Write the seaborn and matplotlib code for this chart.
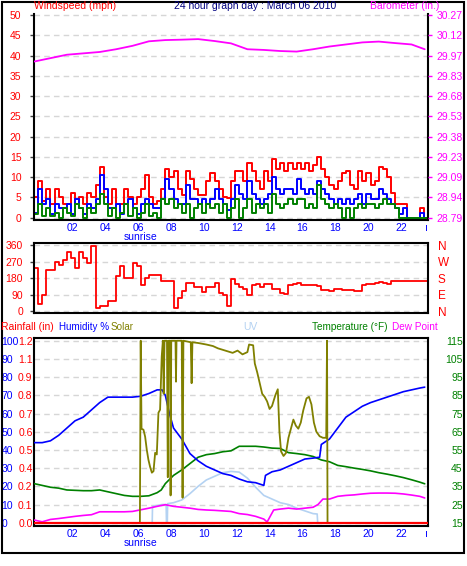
import numpy as np
import pandas as pd
import matplotlib
matplotlib.use("Agg")
import matplotlib.pyplot as plt
import matplotlib.patches as mpatches
import seaborn as sns

sns.set_theme(style="white")
plt.rcParams["font.family"] = ["Liberation Sans", "DejaVu Sans"]
plt.rcParams["font.size"] = 7.5

RED, BLUE, GREEN, MAG = "#ff0000", "#0000ff", "#008000", "#ff00ff"
OLIVE, UVC, NAVY = "#808000", "#b4d2f2", "#000080"
GRID = "#d6d6d6"

# ---------------- data ----------------
wind_step_h = 0.25
gust_mph = [5, 9, 4, 7, 3.5, 7, 5, 3.5, 3.5, 6, 3.5, 5, 3.5, 6, 5, 8,
            12.5, 5, 3.5, 7, 3.5, 3.5, 7, 5, 3.5, 5, 7, 10.5, 5, 3.5, 4, 7,
            12, 10, 11.5, 7, 5.5, 11.5, 9.5, 7, 5.5, 5.5, 9, 11, 9, 7, 5, 4.8,
            9, 11.5, 11.5, 9, 13.5, 11.5, 9, 7, 11.5, 9, 14.5, 12, 13.5, 11.5, 13.5, 12,
            13.5, 12, 13.5, 11.5, 13, 15, 12, 10, 8, 7, 9, 11, 11.5, 8, 7, 11.5,
            9, 11, 8, 9, 12.5, 12, 10, 6, 3.5, 3.5, 3.5, 0, 0, 0, 2.3, 0]
avg_mph = [1.2, 7, 3.5, 4.6, 1, 3.5, 2.3, 2.3, 3.5, 1, 4.6, 2.3, 1, 3.5, 2.3, 4.6,
           10.5, 7, 2.3, 2.3, 3.5, 1, 3.5, 4.6, 2.3, 1, 3.5, 4.6, 3.5, 2.3, 2.3, 4.6,
           9.5, 7, 4.6, 3.5, 3.5, 8, 4.6, 4.6, 3.5, 4.6, 3.5, 4.6, 7, 4.6, 3.5, 2,
           4.6, 8, 5.8, 4.6, 9, 5.8, 4.6, 3.5, 4.6, 5.8, 10, 7, 5.8, 7, 7, 5.8,
           9.5, 7, 5.8, 7, 5.8, 9, 7, 5.8, 4.6, 3.5, 4.6, 3.5, 4.6, 3.5, 4.6, 5.8,
           3.5, 5.8, 4.6, 4.6, 7, 5.8, 4.6, 3.5, 2.3, 1, 2.3, 0, 0, 0, 1.2, 0]
low_mph = [1, 3.5, 0.5, 2.3, 0.5, 1.2, 0, 2.3, 1.2, 0.5, 3.5, 2.3, 0, 2.3, 1.2, 3.5,
           5.8, 3.5, 0.5, 2.3, 0, 1.2, 3.5, 0.5, 2.3, 0, 1.2, 3.5, 0.5, 1.2, 0, 4.6,
           3.5, 4.6, 2.3, 3.5, 1.2, 3.5, 0, 2.3, 3.5, 1.2, 3.5, 2.3, 3.5, 1.2, 3.5, 0,
           2.3, 4.6, 0, 2.3, 4.6, 1.2, 3.5, 2.3, 3.5, 1.2, 5.8, 3.5, 2.3, 3.5, 4.6, 3.5,
           4.6, 4.6, 2.3, 3.5, 2.3, 8, 4.6, 3.5, 2.3, 3.5, 2.3, 0, 2.3, 0, 2.3, 3.5,
           2.3, 3.5, 3.5, 2.3, 3.5, 4.6, 3.5, 3.5, 2.3, 0, 0, 0, 0, 0, 0, 0]
wind_dir = [234, 40, 90, 225, 225, 270, 252, 279, 324, 288, 234, 324, 288, 261, 355, 18,
            27, 27, 54, 54, 189, 243, 180, 180, 261, 243, 144, 180, 198, 198, 198, 162,
            165, 165, 16, 71, 110, 152, 152, 130, 130, 102, 130, 130, 152, 100, 90, 27,
            175, 150, 130, 120, 85, 140, 150, 130, 150, 150, 120, 120, 100, 95, 140, 150,
            155, 140, 140, 140, 140, 135, 112, 115, 110, 118, 120, 115, 112, 112, 110, 110,
            140, 145, 150, 155, 160, 155, 150, 165, 165, 165, 165, 165, 165, 165, 165, 165]

baro_hours = [0, 1, 2, 3, 4, 5, 6, 7, 8, 9, 10, 11, 12, 13, 14, 15, 16, 17, 18, 19,
              20, 21, 22, 23, 23.8]
baro_in = [29.93, 29.955, 29.98, 29.99, 30.0, 30.02, 30.045, 30.078, 30.087, 30.09,
           30.094, 30.08, 30.063, 30.02, 30.015, 30.007, 30.003, 30.02, 30.04, 30.055,
           30.07, 30.076, 30.065, 30.055, 30.02]
baro_ticks = ["28.79", "28.94", "29.09", "29.23", "29.38", "29.53", "29.68", "29.83",
              "29.97", "30.12", "30.27"]

hum_hours = [0, 0.5, 1, 1.5, 2, 2.5, 3, 3.5, 4, 4.5, 5, 6, 6.5, 7, 7.5, 7.8, 8, 8.25,
             8.5, 9, 9.5, 10, 10.5, 11, 11.5, 12, 12.5, 13, 13.5, 14, 14.1, 14.5, 15,
             15.5, 16, 16.5, 17, 17.4, 17.5, 18, 18.5, 19, 19.5, 20, 20.5, 21, 21.5, 22,
             22.5, 23, 23.5, 23.8]
hum_pct = [44, 44, 45, 48, 52, 56, 58, 62, 66, 69, 69, 69, 69.5, 71, 73, 73, 70, 60,
           52, 46, 38, 34, 31, 29, 27, 26, 24, 22.5, 22, 20.5, 26, 28, 29,
           31, 33, 35, 35.5, 36, 43, 46, 52, 58, 61, 64, 66, 67.5, 69, 70.5,
           72, 73, 74, 74.5]

temp_hours = [0, 0.5, 1, 1.5, 2, 2.5, 3, 3.5, 4, 4.5, 5, 5.5, 6, 6.5, 7, 7.5, 7.75, 8,
              8.5, 9, 9.5, 10, 10.5, 11, 11.5, 12, 12.5, 13, 13.5, 14, 14.5, 15, 15.5,
              16, 16.5, 17, 17.5, 18, 18.5, 19, 19.5, 20, 20.5, 21, 21.5, 22, 22.5, 23,
              23.5, 23.8]
temp_f = [36.5, 35.5, 34.5, 34, 33, 32.8, 32.6, 32.6, 33, 32, 31, 30, 29.5, 29.5, 29.8,
          31.5, 33, 36.5, 41, 44, 47.5, 51, 52.4, 53, 54, 54.5, 57, 57, 57, 56.6, 56,
          55.8, 53.5, 53, 52.4, 51.4, 49.5, 48.5, 46.5, 45.8, 45, 44.3, 43.5, 42.5,
          41.7, 40.8, 39.8, 38.6, 37.3, 36.4]

dew_hours = [0, 0.5, 1, 1.5, 2, 2.5, 3, 3.5, 4, 4.5, 5, 5.5, 6, 6.5, 7, 7.5, 8, 8.5, 9,
             9.5, 10, 10.5, 11, 11.5, 12, 12.5, 13, 13.5, 14, 14.2, 14.6, 15, 15.5, 16,
             16.5, 17, 17.3, 17.6, 18, 18.5, 19, 19.5, 20, 20.5, 21, 21.5, 22, 22.5, 23,
             23.5, 23.8]
dew_f = [16.5, 15.5, 16.8, 17.3, 17.9, 18.5, 19, 19.4, 21, 21, 21, 21, 21.2, 22.1, 23,
         24, 24.9, 24, 23.5, 23, 22.3, 22, 21.8, 21.5, 21.2, 20, 19.5, 18.5, 17, 15.4,
         22, 22.5, 23, 22.5, 23, 23.5, 25, 28, 28, 29.5, 30, 30.3, 30.8, 31.2, 31.3,
         31.3, 31.2, 30.8, 30.2, 29.5, 28.6]

solar_hours = [6.45, 6.5, 6.55, 6.67, 6.77, 6.87, 6.97, 7.07, 7.18, 7.28, 7.38, 7.48,
               7.58, 7.68, 7.78, 7.85, 7.9, 7.95, 8.1, 8.15, 8.2, 8.3, 8.32, 8.36, 8.5,
               8.62, 8.65, 8.68, 9.0, 9.05, 9.1, 9.55, 9.6, 9.65, 10.0, 10.5, 10.9,
               11.2, 11.5, 11.8, 12.1, 12.4, 12.7, 13.0, 13.1, 13.35, 13.45, 13.6,
               13.75, 13.9, 14.05, 14.2, 14.35, 14.5, 14.7, 14.85, 14.95, 15.05, 15.2,
               15.35, 15.5, 15.65, 15.8, 15.95, 16.1, 16.25, 16.4, 16.6, 16.75, 16.9,
               17.05, 17.2, 17.4, 17.6, 17.8, 17.85, 17.88]
solar_wm2 = [0, 1200, 620, 613, 567, 481, 415, 369, 330, 340, 461, 450, 725, 745, 1096,
             1200, 850, 1200, 1200, 300, 1200, 1200, 180, 1200, 1200, 1200, 930, 1200,
             1200, 165, 1200, 1190, 920, 1190, 1185, 1175, 1165, 1150, 1140, 1130, 1120,
             1135, 1110, 1125, 1175, 1170, 1050, 990, 920, 850, 830, 800, 750, 770, 840,
             880, 600, 470, 440, 460, 560, 620, 680, 640, 620, 660, 740, 820, 830, 780,
             660, 600, 570, 560, 560, 1200, 0]

uv_hours = [7.2, 7.22, 7.5, 7.8, 8.05, 8.07, 8.12, 8.14, 8.5, 9.0, 9.5, 10.0, 10.5,
            11.0, 11.5, 12.0, 12.5, 13.0, 13.5, 14.0, 14.5, 15.0, 15.5, 16.0, 16.5,
            17.0, 17.25, 17.28]
uv_index = [0, 0.9, 0.95, 1.0, 1.0, 0, 0, 1.05, 1.1, 1.25, 1.6, 2.0, 2.35, 2.55, 2.75,
            2.82, 2.78, 2.45, 1.95, 1.5, 1.3, 1.1, 1.0, 0.8, 0.65, 0.5, 0.48, 0]

rain_hours = [0, 24]
rain_in = [0.0, 0.0]
rain_ticks = ["0.0", "0.1", "0.2", "0.4", "0.5", "0.6", "0.7", "0.8", "0.9", "1.1", "1.2"]
temp_ticks = [15, 25, 35, 45, 55, 65, 75, 85, 95, 105, 115]
hour_ticks = ["02", "04", "06", "08", "10", "12", "14", "16", "18", "20", "22", "\u0131"]
dir_letters = ["N", "E", "S", "W", "N"]
sunrise_h = 6.5

# ---------------- figure ----------------
W, H = 467, 566
fig = plt.figure(figsize=(W / 100, H / 100), dpi=100)
fig.patch.set_facecolor("white")


def rect(x0, y0, x1, y1):
    return [x0 / W, 1 - y1 / H, (x1 - x0) / W, (y1 - y0) / H]


def ftext(x, y, s, color, ha="left", size=7.5):
    fig.text(x / W, 1 - y / H, s, color=color, ha=ha, va="center", fontsize=size)


def style_axes(ax, top=True):
    for side in ["left", "bottom", "right", "top"]:
        ax.spines[side].set_color("black")
        ax.spines[side].set_linewidth(1.5)
    ax.spines["top"].set_visible(top)
    ax.set_xlim(0, 24)
    ax.set_xlabel("")
    ax.set_ylabel("")


def hour_axis(ax, labels=True):
    pos = [2, 4, 6, 8, 10, 12, 14, 16, 18, 20, 22, 23.8]
    ax.set_xticks(pos)
    ax.set_xticks([2, 4, 6, 8, 10, 12, 14, 16, 18, 20, 22], minor=True)
    if labels:
        ax.set_xticklabels(hour_ticks)
        for lab in ax.get_xticklabels():
            lab.set_ha("left")
    else:
        ax.set_xticklabels([])
    ax.tick_params(axis="x", which="both", length=0, pad=2.5, labelcolor=BLUE,
                   labelsize=7.5)


def hide_twin(ax):
    for s in ax.spines.values():
        s.set_visible(False)
    ax.set_xlabel("")
    ax.set_ylabel("")


# ===== Panel 1: wind speed + barometer =====
ax1 = fig.add_axes(rect(34, 14, 428, 220))
t_w = np.arange(len(gust_mph)) * wind_step_h
t_ext = np.append(t_w, 24.0)
series = {"Gust": gust_mph, "Average": avg_mph, "Low": low_mph}
wind_df = pd.concat([
    pd.DataFrame({"hour": t_ext, "mph": np.append(v, v[-1]), "series": k})
    for k, v in series.items()], ignore_index=True)
sns.lineplot(data=wind_df, x="hour", y="mph", hue="series",
             hue_order=["Gust", "Average", "Low"],
             palette={"Gust": RED, "Average": BLUE, "Low": GREEN},
             drawstyle="steps-post", linewidth=1.4, estimator=None,
             legend=False, ax=ax1)
style_axes(ax1, top=False)
ax1.set_ylim(-0.57, 50.25)
ax1.set_yticks(np.arange(0, 55, 5))
ax1.tick_params(axis="y", length=3, width=1, color="#404040", pad=6,
                labelcolor=RED, labelsize=7.5, left=True)
hour_axis(ax1)
ax1.yaxis.grid(True, color=GRID, lw=1, ls=(0, (4, 3)))
ax1.xaxis.grid(True, which="minor", color="#e0e0e0", lw=1.6)
ax1.xaxis.grid(False, which="major")
ax1.set_axisbelow(True)
ax1.annotate("sunrise", xy=(sunrise_h, 0), xycoords=("data", "axes fraction"),
             xytext=(0, -9), textcoords="offset points", ha="center", va="top",
             color=BLUE, fontsize=7.5)

ax1b = ax1.twinx()
sns.lineplot(x=baro_hours, y=baro_in, color=MAG, linewidth=1.3, ax=ax1b)
hide_twin(ax1b)
b0, bstep = 28.79, 0.0296
ax1b.set_ylim(b0 - 0.57 * bstep, b0 + 50.25 * bstep)
ax1b.set_yticks([b0 + bstep * 5 * k for k in range(11)])
ax1b.set_yticklabels(baro_ticks)
ax1b.tick_params(axis="y", length=3, width=1, color=MAG, pad=3, labelcolor=MAG,
                 labelsize=7.5, right=True)
ax1b.set_xlim(0, 24)

# ===== Panel 2: wind direction =====
ax2 = fig.add_axes(rect(34, 243, 428, 312.5))
dir_df = pd.DataFrame({"hour": t_ext, "deg": np.append(wind_dir, wind_dir[-1])})
sns.lineplot(data=dir_df, x="hour", y="deg", color=RED, linewidth=1.3,
             drawstyle="steps-post", estimator=None, ax=ax2)
style_axes(ax2)
ax2.set_ylim(-8, 371)
ax2.set_yticks([0, 90, 180, 270, 360])
ax2.tick_params(axis="y", length=3, width=1, color="#404040", pad=5,
                labelcolor=RED, labelsize=7.5, left=True)
hour_axis(ax2, labels=False)
ax2.yaxis.grid(True, color=GRID, lw=1, ls=(0, (4, 3)))
ax2.xaxis.grid(True, which="minor", color="#e0e0e0", lw=1.6)
ax2.xaxis.grid(False, which="major")
ax2.set_axisbelow(True)
ax2b = ax2.twinx()
hide_twin(ax2b)
ax2b.set_ylim(-8, 371)
ax2b.set_yticks([0, 90, 180, 270, 360])
ax2b.set_yticklabels(dir_letters)
ax2b.tick_params(axis="y", length=0, pad=7, labelcolor=RED, labelsize=8.5, right=True)

# ===== Panel 3: rain / humidity / solar / UV / temperature / dew point =====
hum_lim = (-1.8, 101.5)
ax3 = fig.add_axes(rect(34, 338, 428, 526))
style_axes(ax3)
ax3.set_ylim(*hum_lim)
ax3.set_yticks(np.arange(0, 101, 10))
ax3.tick_params(axis="y", length=0, pad=23.5, labelcolor=BLUE, labelsize=7.5,
                left=True)
for lab in ax3.get_yticklabels():
    lab.set_ha("left")
hour_axis(ax3)
ax3.yaxis.grid(True, color=GRID, lw=1, ls=(0, (4, 3)))
ax3.xaxis.grid(False, which="both")
ax3.annotate("sunrise", xy=(sunrise_h, 0), xycoords=("data", "axes fraction"),
             xytext=(0, -9), textcoords="offset points", ha="center", va="top",
             color=BLUE, fontsize=7.5)

ax3u = ax3.twinx()
hide_twin(ax3u)
ax3u.set_ylim(hum_lim[0] * 0.1, hum_lim[1] * 0.1)
ax3u.set_yticks([])
sns.lineplot(x=uv_hours, y=uv_index, color=UVC, linewidth=1.2, ax=ax3u)

ax3t = ax3.twinx()
hide_twin(ax3t)
ax3t.set_ylim(15 + hum_lim[0], 15 + hum_lim[1])
ax3t.set_yticks(temp_ticks)
ax3t.tick_params(axis="y", length=0, pad=25, labelcolor=GREEN, labelsize=7.5,
                 right=True)
for lab in ax3t.get_yticklabels():
    lab.set_ha("right")
sns.lineplot(x=temp_hours, y=temp_f, color=GREEN, linewidth=1.2, ax=ax3t)
sns.lineplot(x=dew_hours, y=dew_f, color=MAG, linewidth=1.2, ax=ax3t)

ax3h = ax3.twinx()
hide_twin(ax3h)
ax3h.set_ylim(*hum_lim)
ax3h.set_yticks([])
sns.lineplot(x=hum_hours, y=hum_pct, color=BLUE, linewidth=1.2, ax=ax3h)

ax3s = ax3.twinx()
hide_twin(ax3s)
ax3s.set_ylim(hum_lim[0] * 12, hum_lim[1] * 12)
ax3s.set_yticks([])
sns.lineplot(x=solar_hours, y=solar_wm2, color=OLIVE, linewidth=1.3, ax=ax3s)

ax3r = ax3.twinx()
hide_twin(ax3r)
ax3r.set_ylim(hum_lim[0] * 0.012, hum_lim[1] * 0.012)
ax3r.yaxis.tick_left()
ax3r.set_yticks([0.12 * k for k in range(11)])
ax3r.set_yticklabels(rain_ticks)
ax3r.tick_params(axis="y", length=0, pad=1, labelcolor=RED, labelsize=7.5)
sns.lineplot(x=rain_hours, y=rain_in, color=RED, linewidth=1.6, ax=ax3r)

for a in [ax1b, ax2b, ax3u, ax3t, ax3h, ax3s, ax3r]:
    a.set_xlim(0, 24)
    a.set_xlabel("")
    a.set_ylabel("")
    a.tick_params(axis="x", which="both", bottom=False, labelbottom=False)

# ---------------- header texts ----------------
ftext(34, 6, "Windspeed (mph)", RED)
ftext(255, 6, "24 hour graph day : March 06 2010", NAVY, ha="center")
ftext(439, 6, "Barometer (in.)", MAG, ha="right")
ftext(1, 327, "Rainfall (in)", RED)
ftext(109.5, 327, "Humidity %", BLUE, ha="right", size=7.1)
ftext(110.5, 327, "Solar", OLIVE, size=7.1)
ftext(243, 327, "UV", UVC)
ftext(312, 327, "Temperature (\u00b0F)", GREEN, size=7.2)
ftext(392, 327, "Dew Point", MAG, size=7.2)

fig.add_artist(mpatches.Rectangle((1.5 / W, 1 - 553 / H), 462.5 / W, 551.5 / H,
                                  transform=fig.transFigure, fill=False,
                                  lw=1.5, ec="black"))

fig.savefig("out.png", dpi=100, facecolor="white")
